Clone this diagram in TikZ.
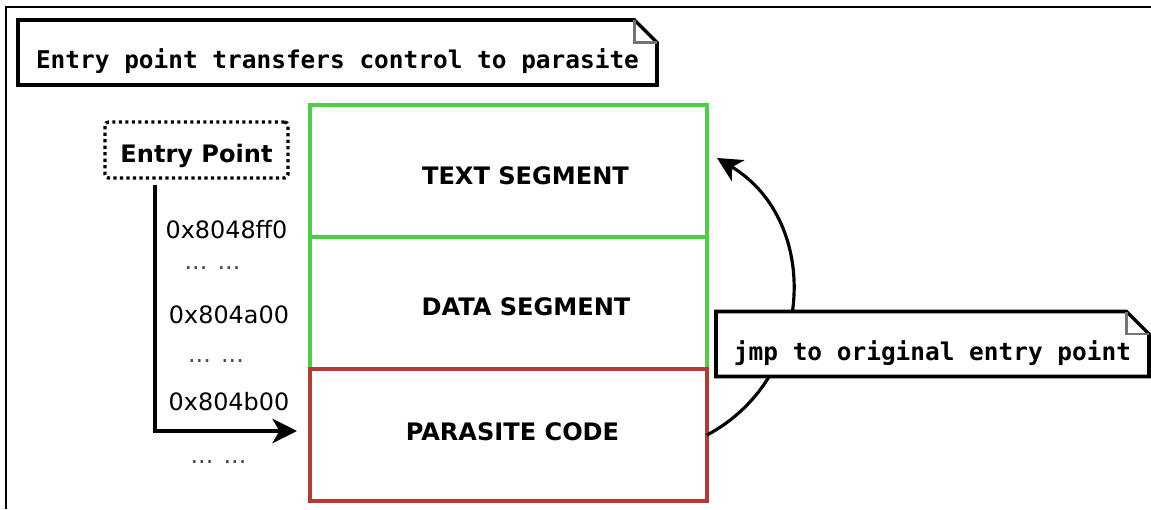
\documentclass[tikz,border=0pt]{standalone}
\usepackage{fontspec}
\setmainfont{DejaVu Sans}
\setmonofont{DejaVu Sans Mono}
\usepackage{tikz}
\usetikzlibrary{arrows.meta, positioning}
\definecolor{seggreen}{RGB}{80,205,70}
\definecolor{segred}{RGB}{178,58,55}

\begin{document}
\begin{tikzpicture}[
    segment/.style={draw, line width=2.2pt, minimum width=7.94cm, minimum height=2.64cm, outer sep=0pt},
    seglabel/.style={font=\fontsize{13.7}{16}\selectfont\bfseries},
    addr/.style={font=\fontsize{13.6}{16}\selectfont},
    dots/.style={font=\fontsize{13.6}{16}\selectfont, text=black!70},
    note/.style={font=\fontsize{13.9}{16}\selectfont\ttfamily\bfseries, fill=white, outer sep=0pt,
      text height=0.76cm, text depth=0.12cm, minimum height=1.3cm},
    tip/.style={-{Stealth[length=14pt, width=14pt, inset=4pt]}}
  ]
  \useasboundingbox (0,0) rectangle (23.02,10.18);
  % Frame
  \draw[line width=1.3pt] (0.12,0) -- (0.12,10.04) -- (23.02,10.04);
  % Title note
  \node[note, minimum width=12.78cm] (title) at (6.75,9.13) {Entry point transfers control to parasite};
  % Entry point
  \node[draw, line width=1.9pt, dash pattern=on 1.8pt off 1.9pt, rounded corners=2pt,
    minimum width=3.66cm, minimum height=1.12cm, text height=0.64cm, text depth=0.12cm,
    font=\fontsize{13.7}{16}\selectfont\bfseries] (entry) at (3.93,7.18) {Entry Point};
  % Segments
  \node[segment, draw=seggreen] (textseg) at (10.17,6.76) {};
  \node[segment, draw=seggreen, below=0pt of textseg] (dataseg) {};
  \node[segment, draw=segred, below=0pt of dataseg] (parasite) {};
  \node[seglabel] (textlbl) at ([xshift=0.34cm, yshift=-0.09cm]textseg.center) {TEXT SEGMENT};
  \node[seglabel] (datalbl) at ([xshift=0.35cm, yshift=-0.08cm]dataseg.center) {DATA SEGMENT};
  \node[seglabel] (paralbl) at ([xshift=0.08cm, yshift=0.07cm]parasite.center) {PARASITE CODE};
  % Addresses
  \node[addr] (addr1) at (4.53,5.59) {0x8048ff0};
  \node[dots] (dots1) at (4.25,4.82) {... ...};
  \node[addr] (addr2) at (4.58,3.88) {0x804a00};
  \node[dots] (dots2) at (4.32,2.96) {... ...};
  \node[addr] (addr3) at (4.58,2.14) {0x804b00};
  \node[dots] (dots3) at (4.37,0.94) {... ...};
  % Control flow
  \draw[line width=2pt, tip] ([xshift=-0.83cm, yshift=-0.1cm]entry.south) |- ([xshift=-0.26cm, yshift=0.08cm]parasite.west);
  \draw[line width=1.8pt, tip] (parasite.east) to[out=28, in=-31, looseness=1.13] ([xshift=0.2cm, yshift=0.26cm]textseg.east);
  % Jump note
  \node[note, minimum width=8.66cm] (jmp) at (18.65,3.30) {jmp to original entry point};
  \foreach \n in {title, jmp} {
    \draw[line width=2pt, line join=miter] (\n.south west) -- (\n.north west) -- ([xshift=-0.45cm]\n.north east)
      -- ([yshift=-0.45cm]\n.north east) -- (\n.south east) -- cycle;
    \draw[line width=1.5pt, black!55] ([xshift=-0.45cm]\n.north east) |- ([yshift=-0.45cm]\n.north east);
  }
\end{tikzpicture}
\end{document}
